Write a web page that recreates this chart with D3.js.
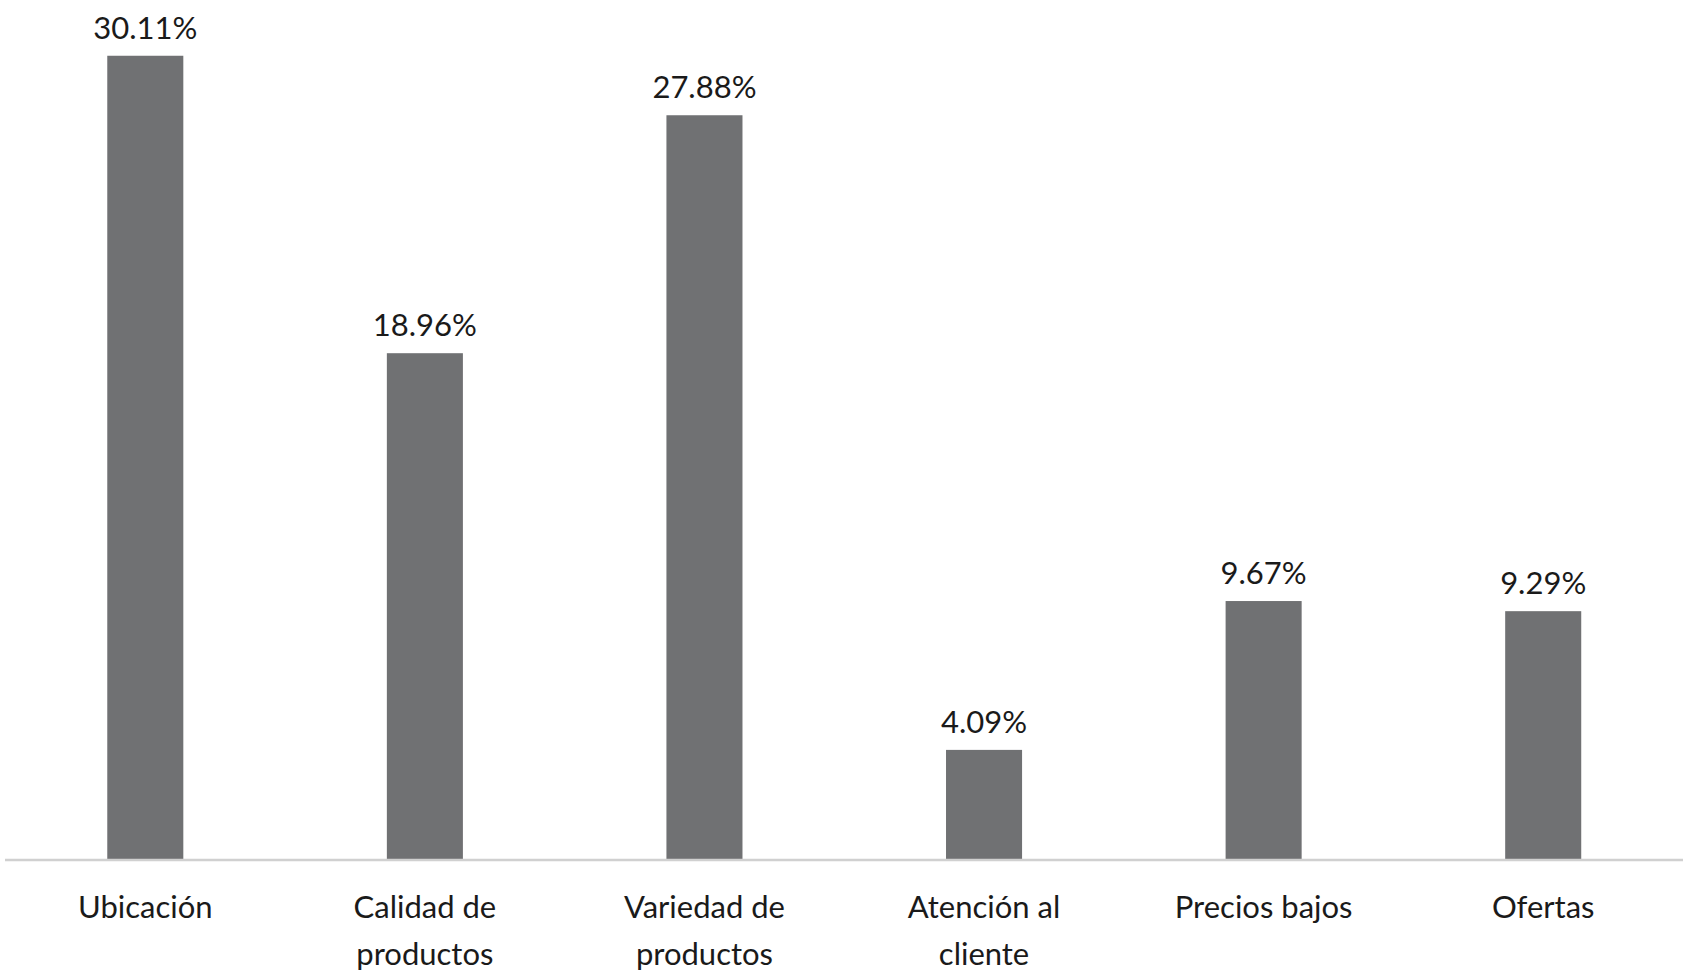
<!DOCTYPE html><html><head><meta charset="utf-8"><script src="https://cdn.jsdelivr.net/npm/d3@7"></script>
<style>body{margin:0;background:#fff}</style></head><body><svg id="c" width="1687" height="976"></svg>
<script>
const categories=[["Ubicación"],["Calidad de","productos"],["Variedad de","productos"],["Atención al","cliente"],["Precios bajos"],["Ofertas"]];
const values=[30.11,18.96,27.88,4.09,9.67,9.29];
const labels=["30.11%","18.96%","27.88%","4.09%","9.67%","9.29%"];
const svg=d3.select("#c");
const x=d3.scaleBand().domain(d3.range(values.length)).range([5.5,1683]).paddingInner(0.728).paddingOuter(0.364);
const y=d3.scaleLinear().domain([0,32.2]).range([859,0]);
const font="Lato, 'Open Sans', sans-serif";
svg.selectAll("rect").data(values).join("rect").attr("x",(d,i)=>x(i)).attr("width",x.bandwidth())
 .attr("y",d=>y(d)).attr("height",d=>859-y(d)).attr("fill","#707173");
svg.append("line").attr("x1",5).attr("x2",1683).attr("y1",860).attr("y2",860).attr("stroke","#d0d0d0").attr("stroke-width",2.5);
svg.selectAll("text.v").data(values).join("text").attr("class","v").attr("x",(d,i)=>x(i)+x.bandwidth()/2)
 .attr("y",d=>y(d)-17).attr("text-anchor","middle").attr("font-family",font).attr("font-size",31).attr("fill","#1a1a1a").text((d,i)=>labels[i]);
categories.forEach((lines,i)=>{lines.forEach((t,j)=>{svg.append("text").attr("x",x(i)+x.bandwidth()/2).attr("y",918+j*47)
 .attr("text-anchor","middle").attr("font-family",font).attr("font-size",31).attr("fill","#1a1a1a").text(t);});});
</script></body></html>
